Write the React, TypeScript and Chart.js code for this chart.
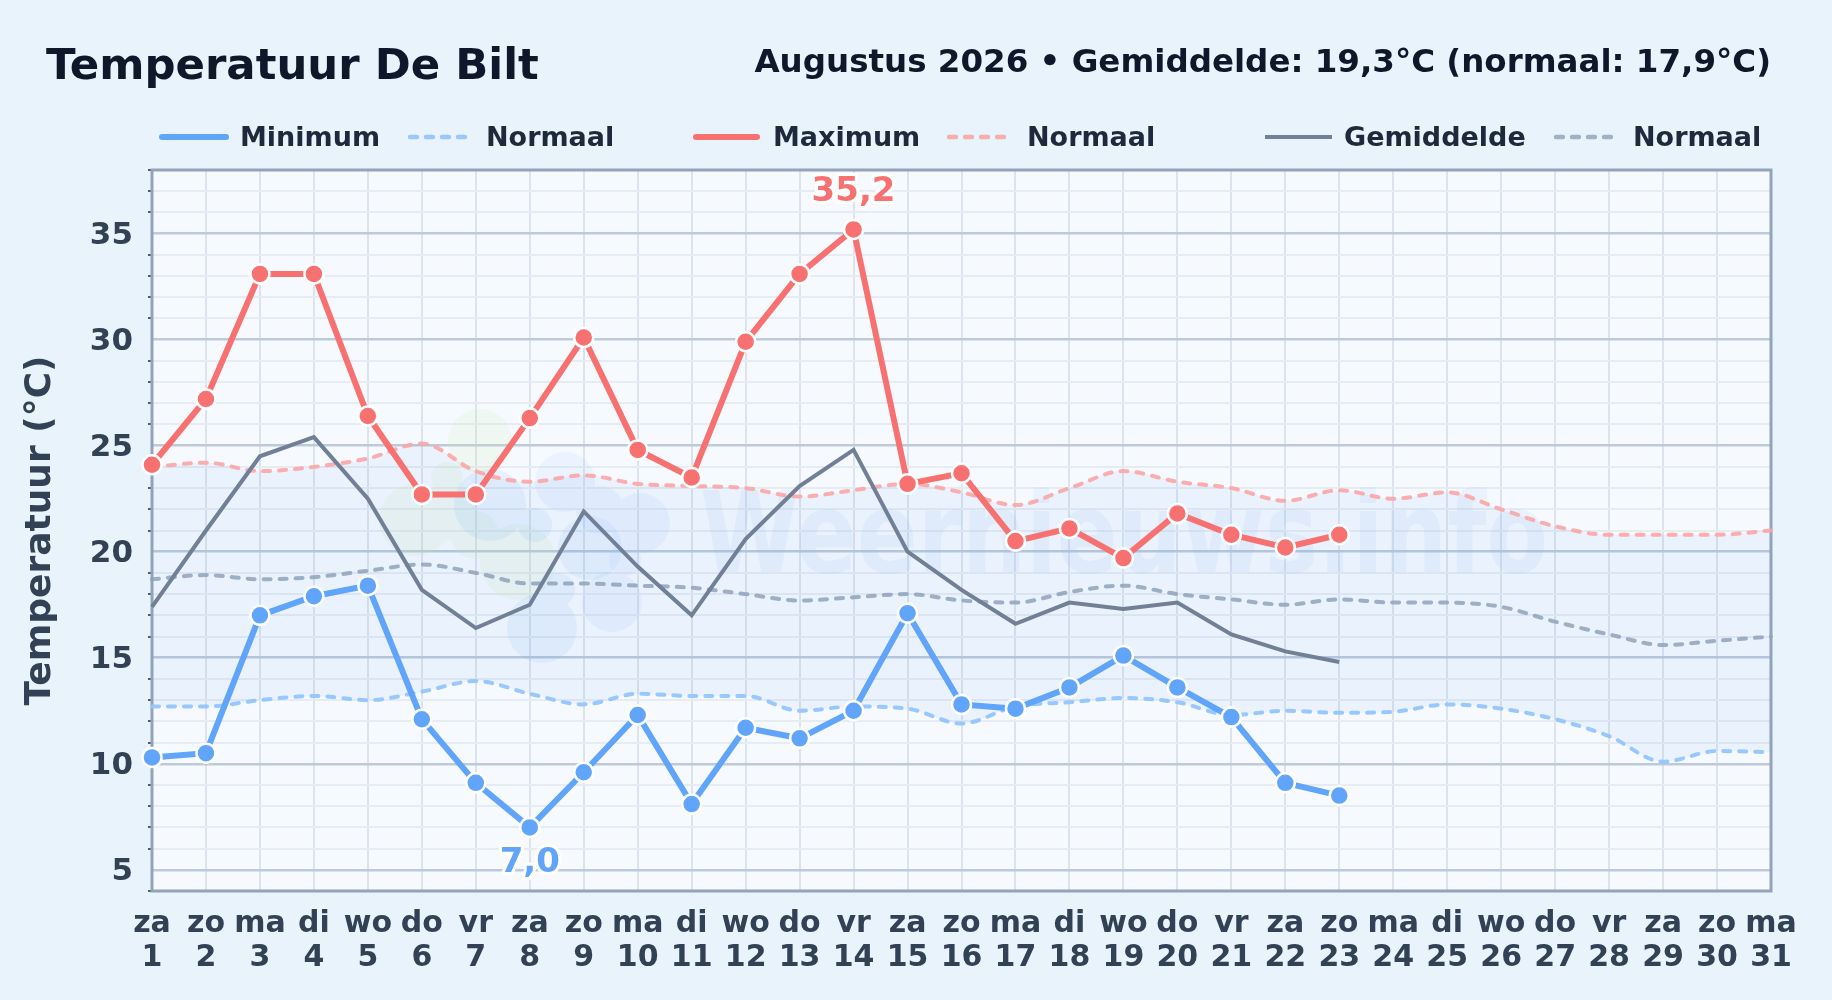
import React, { useEffect, useRef } from "react";
import { Chart, registerables } from "chart.js";

Chart.register(...registerables);

const weekdays = ["za","zo","ma","di","wo","do","vr","za","zo","ma","di","wo","do","vr","za","zo","ma","di","wo","do","vr","za","zo","ma","di","wo","do","vr","za","zo","ma"];
const dayNumbers = ["1","2","3","4","5","6","7","8","9","10","11","12","13","14","15","16","17","18","19","20","21","22","23","24","25","26","27","28","29","30","31"];

const minimum = [10.3,10.5,17.0,17.9,18.4,12.1,9.1,7.0,9.6,12.3,8.1,11.7,11.2,12.5,17.1,12.8,12.6,13.6,15.1,13.6,12.2,9.1,8.5];
const maximum = [24.1,27.2,33.1,33.1,26.4,22.7,22.7,26.3,30.1,24.8,23.5,29.9,33.1,35.2,23.2,23.7,20.5,21.1,19.7,21.8,20.8,20.2,20.8];
const average = [17.4,21.0,24.5,25.4,22.5,18.2,16.4,17.5,21.9,19.3,17.0,20.6,23.1,24.8,20.0,18.2,16.6,17.6,17.3,17.6,16.1,15.3,14.8];
const normalMax = [24.0,24.2,23.8,24.0,24.4,25.1,23.8,23.3,23.6,23.2,23.1,23.0,22.6,22.9,23.2,22.8,22.2,23.0,23.8,23.3,23.0,22.4,22.9,22.5,22.8,22.0,21.2,20.8,20.8,20.8,21.0];
const normalMin = [12.7,12.7,13.0,13.2,13.0,13.4,13.9,13.3,12.8,13.3,13.2,13.2,12.5,12.7,12.6,11.9,12.7,12.9,13.1,12.9,12.3,12.5,12.4,12.45,12.8,12.6,12.1,11.3,10.1,10.6,10.55];
const normalAvg = [18.7,18.9,18.7,18.8,19.1,19.4,19.0,18.5,18.5,18.4,18.3,18.0,17.7,17.85,18.0,17.7,17.6,18.1,18.4,18.0,17.75,17.5,17.75,17.6,17.6,17.4,16.7,16.1,15.6,15.8,16.0];

const FONT = '"DejaVu Sans"';
const BLUE = "#60a5fa", RED = "#f87171", SLATE = "#718096";
const BLUE_N = "rgba(147,197,253,0.95)", RED_N = "rgba(252,165,165,0.9)", SLATE_N = "rgba(148,163,184,0.85)";
const DASH = [7, 9];

const legendItems = [
  { label: "Minimum", color: BLUE, width: 6, cap: "round", dash: [], x0: 162, x1: 226, tx: 240 },
  { label: "Normaal", color: BLUE_N, width: 4.4, cap: "round", dash: DASH, x0: 410, x1: 465, tx: 486 },
  { label: "Maximum", color: RED, width: 6, cap: "round", dash: [], x0: 696, x1: 757, tx: 773 },
  { label: "Normaal", color: RED_N, width: 4.4, cap: "round", dash: DASH, x0: 949, x1: 1004, tx: 1027 },
  { label: "Gemiddelde", color: SLATE, width: 4, cap: "butt", dash: [], x0: 1265, x1: 1332, tx: 1344 },
  { label: "Normaal", color: SLATE_N, width: 4.4, cap: "round", dash: DASH, x0: 1556, x1: 1618, tx: 1633 },
];

const logoGroups = [
  {
    color: "rgba(205,232,180,0.18)",
    blobs: [[480, 441, 32], [447, 478, 16], [415, 520, 36], [448, 512, 28], [518, 562, 38], [475, 535, 24]],
  },
  {
    color: "rgba(96,165,250,0.10)",
    blobs: [[490, 505, 36], [535, 525, 17], [590, 548, 32], [558, 590, 17], [542, 628, 35]],
  },
  {
    color: "rgba(147,197,253,0.12)",
    blobs: [[565, 482, 30], [600, 510, 24], [640, 523, 30], [625, 560, 16], [612, 602, 30]],
  },
];

const backdrop = {
  id: "backdrop",
  beforeDraw(chart: any) {
    const { ctx, chartArea: a } = chart;
    ctx.save();
    ctx.fillStyle = "#e8f3fc";
    ctx.fillRect(0, 0, chart.width, chart.height);
    ctx.fillStyle = "#f6faff";
    ctx.fillRect(a.left, a.top, a.width, a.height);
    ctx.restore();
  },
};

const watermark = {
  id: "watermark",
  beforeDatasetsDraw(chart: any) {
    const { ctx } = chart;
    ctx.save();
    logoGroups.forEach((g) => {
      ctx.fillStyle = g.color;
      ctx.beginPath();
      g.blobs.forEach(([x, y, r]) => {
        ctx.moveTo(x + r, y);
        ctx.arc(x, y, r, 0, Math.PI * 2);
      });
      ctx.fill("nonzero");
    });
    ctx.fillStyle = "rgba(125,190,240,0.10)";
    ctx.font = `bold 112px ${FONT}`;
    ctx.textAlign = "left";
    ctx.textBaseline = "alphabetic";
    ctx.fillText("Weernieuws.info", 700, 572, 848);
    ctx.restore();
  },
};

const frame = {
  id: "frame",
  beforeDatasetsDraw(chart: any) {
    const { ctx, chartArea: a } = chart;
    ctx.save();
    ctx.strokeStyle = "#94a3b8";
    ctx.lineWidth = 3;
    ctx.strokeRect(a.left, a.top, a.width, a.height);
    ctx.restore();
  },
};

const headings = {
  id: "headings",
  afterDraw(chart: any) {
    const { ctx } = chart;
    ctx.save();
    ctx.textBaseline = "alphabetic";
    ctx.fillStyle = "#0f172a";
    ctx.textAlign = "left";
    ctx.font = `bold 43.4px ${FONT}`;
    ctx.fillText("Temperatuur De Bilt", 46, 79);
    ctx.textAlign = "right";
    ctx.font = `bold 32.5px ${FONT}`;
    ctx.fillText("Augustus 2026 • Gemiddelde: 19,3°C (normaal: 17,9°C)", 1771, 72);
    ctx.textAlign = "left";
    ctx.textBaseline = "middle";
    ctx.font = `bold 27px ${FONT}`;
    legendItems.forEach((it) => {
      ctx.beginPath();
      ctx.strokeStyle = it.color;
      ctx.lineWidth = it.width;
      ctx.lineCap = it.cap;
      ctx.setLineDash(it.dash);
      ctx.moveTo(it.x0, 137);
      ctx.lineTo(it.x1, 137);
      ctx.stroke();
      ctx.setLineDash([]);
      ctx.fillStyle = "#1e293b";
      ctx.fillText(it.label, it.tx, 138.5);
    });
    ctx.restore();
  },
};

const extremes = {
  id: "extremes",
  afterDatasetsDraw(chart: any) {
    const { ctx } = chart;
    const mark = (dsIndex: number, values: number[], idx: number, dy: number, color: string) => {
      const pt = chart.getDatasetMeta(dsIndex).data[idx];
      ctx.save();
      ctx.font = `bold 34px ${FONT}`;
      ctx.textAlign = "center";
      ctx.textBaseline = "middle";
      const text = values[idx].toFixed(1).replace(".", ",");
      ctx.lineJoin = "round";
      ctx.lineWidth = 6;
      ctx.strokeStyle = "#ffffff";
      ctx.strokeText(text, pt.x, pt.y + dy);
      ctx.fillStyle = color;
      ctx.fillText(text, pt.x, pt.y + dy);
      ctx.restore();
    };
    mark(1, maximum, maximum.indexOf(Math.max(...maximum)), -37, RED);
    mark(0, minimum, minimum.indexOf(Math.min(...minimum)), 36, BLUE);
  },
};

export default function App() {
  const ref = useRef<HTMLCanvasElement>(null);
  useEffect(() => {
    document.body.style.margin = "0";
    const solid = (label: string, data: number[], color: string, width: number, radius: number) => ({
      label, data, borderColor: color, backgroundColor: color, borderWidth: width,
      pointRadius: radius, pointHoverRadius: radius, pointBackgroundColor: color,
      pointBorderColor: "#ffffff", pointBorderWidth: 2.5, tension: 0, clip: false, fill: false,
    });
    const dashed = (label: string, data: number[], color: string, fill: any = false) => ({
      label, data, borderColor: color, backgroundColor: "rgba(80,140,230,0.07)", borderWidth: 4,
      borderDash: DASH, borderCapStyle: "round", pointRadius: 0, tension: 0.4,
      cubicInterpolationMode: "monotone", fill,
    });
    const chart = new Chart(ref.current!, {
      type: "line",
      data: {
        labels: weekdays.map((w, i) => [w, dayNumbers[i]]),
        datasets: [
          solid("Minimum", minimum, BLUE, 6, 9.5),
          solid("Maximum", maximum, RED, 6, 9.5),
          solid("Gemiddelde", average, SLATE, 4, 0),
          dashed("Normaal min", normalMin, BLUE_N),
          dashed("Normaal max", normalMax, RED_N, { target: 3 }),
          dashed("Normaal gem", normalAvg, SLATE_N),
        ] as any,
      },
      options: {
        animation: false,
        responsive: false,
        maintainAspectRatio: false,
        devicePixelRatio: 1,
        layout: { padding: { top: 170, left: 0, right: 61, bottom: 0 } },
        plugins: { legend: { display: false }, title: { display: false }, tooltip: { enabled: false } },
        scales: {
          x: {
            offset: false,
            afterFit: (s: any) => { s.height = 109; },
            grid: { color: "#dce3ed", lineWidth: 2, drawTicks: false, tickLength: 0 },
            border: { display: false },
            ticks: {
              autoSkip: false, maxRotation: 0, minRotation: 0, padding: 16, color: "#334155",
              font: { family: FONT, size: 30, weight: "bold", lineHeight: 1.13 },
            },
          },
          y: {
            min: 4, max: 38,
            afterFit: (s: any) => { s.width = 152; },
            title: {
              display: true, text: "Temperatuur (°C)", color: "#334155",
              font: { family: FONT, size: 36, weight: "bold" }, padding: { top: 19, bottom: 0 },
            },
            border: { display: false },
            grid: {
              color: (c: any) => (c.tick.value % 5 === 0 ? "#bccadb" : "#e6ecf3"),
              lineWidth: (c: any) => (c.tick.value % 5 === 0 ? 2.5 : 2),
              tickColor: (c: any) => (c.tick.value % 5 === 0 ? "rgba(0,0,0,0)" : "#1e293b"),
              tickLength: 4, tickWidth: 1.5,
            } as any,
            ticks: {
              stepSize: 1, autoSkip: false, padding: 15, color: "#334155",
              font: { family: FONT, size: 31, weight: "bold", lineHeight: "4px" },
              callback: (v: any) => (Number(v) % 5 === 0 ? ["", String(v)] : ""),
            } as any,
          },
        },
      },
      plugins: [backdrop, watermark, frame, extremes, headings],
    });
    return () => chart.destroy();
  }, []);
  return (
    <div style={{ width: 1832, height: 1000 }}>
      <canvas ref={ref} width={1832} height={1000} style={{ display: "block" }} />
    </div>
  );
}
